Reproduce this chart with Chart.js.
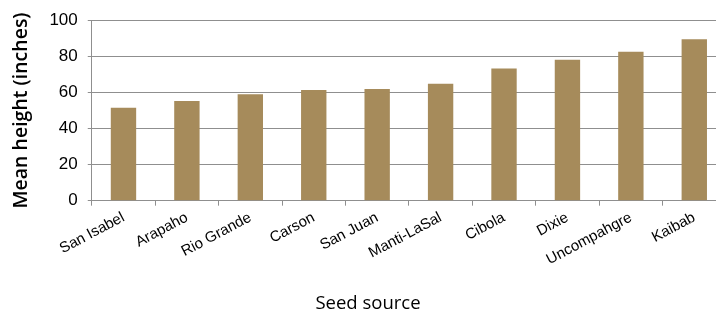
<!DOCTYPE html>
<html>
<head>
<meta charset="utf-8">
<script src="https://cdn.jsdelivr.net/npm/chart.js@4/dist/chart.umd.min.js"></script>
<style>
  html, body { margin: 0; padding: 0; background: #fff; overflow: hidden; }
  #wrap { width: 726px; height: 311px; }
</style>
</head>
<body>
<div id="wrap"><canvas id="grafico"></canvas></div>
<script>
// datos
const fuentes = ['San Isabel', 'Arapaho', 'Rio Grande', 'Carson', 'San Juan', 'Manti-LaSal', 'Cibola', 'Dixie', 'Uncompahgre', 'Kaibab']
const alturas = [51.5, 55.2, 58.9, 61.3, 61.9, 64.8, 73.3, 78.1, 82.5, 89.5]
const ticksY = [0, 20, 40, 60, 80, 100]

const colorBarra = '#a68b5b'
const colorLinea = '#8f8f8f'

const ctx = document.getElementById('grafico')

new Chart(ctx, {
    type: 'bar',
    data: {
        labels: fuentes,
        datasets: [{
            data: alturas,
            backgroundColor: colorBarra,
            borderWidth: 0,
            categoryPercentage: 1,
            barPercentage: 0.4
        }]
    },
    options: {
        responsive: true,
        maintainAspectRatio: false,
        animation: false,
        layout: { padding: { top: 6, left: 10, right: 0, bottom: -4 } },
        plugins: {
            legend: { display: false },
            tooltip: { enabled: false },
            // titulo del eje x centrado en todo el lienzo
            title: {
                display: true,
                position: 'bottom',
                text: 'Seed source',
                color: '#000',
                font: { family: 'Open Sans', size: 18.5, weight: 'normal' },
                padding: { top: 21, bottom: 0 }
            }
        },
        scales: {
            x: {
                grid: {
                    drawOnChartArea: false,
                    drawTicks: true,
                    tickLength: 5,
                    color: colorLinea
                },
                border: { color: colorLinea },
                ticks: {
                    color: '#000',
                    font: { family: 'Liberation Sans', size: 15 },
                    minRotation: 28,
                    maxRotation: 28,
                    autoSkip: false,
                    padding: 3
                }
            },
            y: {
                min: 0,
                max: 100,
                afterBuildTicks: axis => { axis.ticks = ticksY.map(v => ({ value: v })) },
                grid: {
                    color: colorLinea,
                    tickLength: 4
                },
                border: { color: colorLinea },
                ticks: {
                    color: '#000',
                    font: { family: 'Liberation Sans', size: 17 },
                    padding: 10
                },
                title: {
                    display: true,
                    text: 'Mean height (inches)',
                    color: '#000',
                    font: { family: 'Open Sans', size: 19.5, weight: '600' },
                    padding: { top: 0, bottom: 6 }
                }
            }
        }
    }
})
</script>
</body>
</html>
